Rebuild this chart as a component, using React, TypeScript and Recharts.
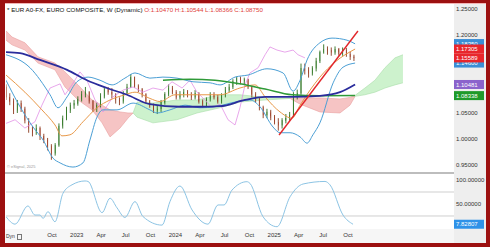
import { ComposedChart, Line, Area, Bar, XAxis, YAxis, ReferenceLine } from 'recharts'

const FONT = '"Liberation Sans", Arial, sans-serif'
const START = Date.UTC(2022, 3, 14)
const WEEK = 7 * 24 * 3600 * 1000
const X_MAX = 236.9

const TICK_DATES = ['2022-10-01', '2023-01-01', '2023-04-01', '2023-07-01', '2023-10-01', '2024-01-01', '2024-04-01', '2024-07-01', '2024-10-01', '2025-01-01', '2025-04-01', '2025-07-01', '2025-10-01']
const TICK_LABELS = ['Oct', '2023', 'Apr', 'Jul', 'Oct', '2024', 'Apr', 'Jul', 'Oct', '2025', 'Apr', 'Jul', 'Oct']
const TICK_WEEKS = TICK_DATES.map((d) => (Date.parse(d) - START) / WEEK)

// bi-weekly candles, week = index * 2
const FIRST_OPEN = 1.1
const CLOSE = [
  1.080, 1.072, 1.055, 1.068, 1.058, 1.035, 1.020, 1.012, 1.020, 1.005,
  0.998, 0.985, 0.972, 0.988, 1.025, 1.040, 1.055, 1.065, 1.068, 1.076,
  1.085, 1.090, 1.072, 1.058, 1.065, 1.082, 1.095, 1.090, 1.085, 1.075,
  1.072, 1.088, 1.100, 1.118, 1.102, 1.095, 1.085, 1.072, 1.065, 1.055,
  1.058, 1.070, 1.085, 1.098, 1.090, 1.080, 1.086, 1.090, 1.084, 1.080,
  1.088, 1.072, 1.066, 1.076, 1.085, 1.080, 1.072, 1.084, 1.094, 1.100,
  1.110, 1.116, 1.110, 1.114, 1.100, 1.085, 1.076, 1.060, 1.046, 1.052,
  1.042, 1.032, 1.026, 1.035, 1.040, 1.045, 1.084, 1.088, 1.136, 1.132,
  1.126, 1.135, 1.150, 1.166, 1.172, 1.170, 1.166, 1.172, 1.165, 1.170,
  1.162, 1.158, 1.156,
]
const HIGH = [
  1.105, 1.088, 1.078, 1.075, 1.074, 1.062, 1.040, 1.025, 1.028, 1.024,
  1.010, 1.002, 0.990, 0.992, 1.030, 1.045, 1.062, 1.070, 1.075, 1.082,
  1.092, 1.100, 1.092, 1.075, 1.070, 1.088, 1.100, 1.100, 1.098, 1.088,
  1.080, 1.092, 1.106, 1.125, 1.120, 1.105, 1.098, 1.088, 1.075, 1.068,
  1.064, 1.075, 1.090, 1.105, 1.102, 1.094, 1.092, 1.096, 1.094, 1.090,
  1.094, 1.090, 1.076, 1.080, 1.090, 1.090, 1.085, 1.088, 1.100, 1.106,
  1.115, 1.120, 1.120, 1.118, 1.116, 1.102, 1.090, 1.080, 1.064, 1.058,
  1.056, 1.046, 1.040, 1.040, 1.048, 1.052, 1.090, 1.095, 1.145, 1.145,
  1.138, 1.140, 1.156, 1.170, 1.182, 1.178, 1.176, 1.178, 1.175, 1.176,
  1.175, 1.168, 1.162,
]
const LOW = [
  1.075, 1.065, 1.048, 1.050, 1.052, 1.030, 1.012, 1.005, 1.008, 0.998,
  0.992, 0.978, 0.960, 0.968, 0.985, 1.020, 1.036, 1.050, 1.058, 1.064,
  1.072, 1.080, 1.068, 1.052, 1.052, 1.060, 1.078, 1.085, 1.078, 1.068,
  1.065, 1.068, 1.085, 1.098, 1.098, 1.090, 1.080, 1.068, 1.060, 1.050,
  1.048, 1.052, 1.066, 1.082, 1.086, 1.076, 1.076, 1.080, 1.080, 1.075,
  1.076, 1.068, 1.060, 1.062, 1.072, 1.076, 1.068, 1.068, 1.080, 1.090,
  1.096, 1.104, 1.105, 1.104, 1.096, 1.080, 1.070, 1.055, 1.040, 1.040,
  1.036, 1.028, 1.016, 1.020, 1.030, 1.035, 1.042, 1.076, 1.085, 1.124,
  1.118, 1.122, 1.130, 1.146, 1.164, 1.162, 1.160, 1.162, 1.160, 1.160,
  1.158, 1.152, 1.150,
]

// [week, value]
const NAVY = [[0, 1.167], [7.4, 1.165], [18, 1.152], [32.3, 1.133], [42.8, 1.113], [53.4, 1.098], [64, 1.085], [76.1, 1.067], [92, 1.062], [102.6, 1.062], [113.2, 1.063], [126.4, 1.075], [137, 1.081], [151.2, 1.081], [166, 1.083], [176.6, 1.09], [184.6, 1.1048]]
const GREEN_MA = [[83, 1.113], [97.3, 1.115], [110.5, 1.113], [123.7, 1.106], [137, 1.096], [151.2, 1.085], [166, 1.083], [184.6, 1.0834]]
const ORANGE_MA = [[0, 1.123], [10, 1.09], [19, 1.056], [25.9, 1.027], [29.6, 1.006], [33.8, 1.008], [40.7, 1.033], [48.1, 1.06], [55, 1.075], [62.9, 1.085], [68.2, 1.09], [76.1, 1.078], [81.4, 1.072], [89.4, 1.085], [102.6, 1.085], [113.2, 1.085], [123.7, 1.098], [131.7, 1.104], [137, 1.081], [144.9, 1.052], [151.2, 1.04], [155.5, 1.065], [160.8, 1.094], [166, 1.119], [174, 1.148], [184.6, 1.173]]
const BB_UPPER = [[0, 1.162], [12.7, 1.137], [23.3, 1.085], [27.5, 1.06], [32.3, 1.081], [37.5, 1.11], [43.4, 1.119], [49.7, 1.113], [56.1, 1.104], [62.9, 1.117], [68.2, 1.127], [76.1, 1.117], [83, 1.119], [90.4, 1.117], [98.9, 1.11], [107.9, 1.108], [113.2, 1.104], [121.1, 1.119], [128, 1.123], [138, 1.135], [146.5, 1.127], [151.8, 1.092], [155.5, 1.113], [159.2, 1.152], [166, 1.185], [172.4, 1.194], [180.3, 1.19], [184.6, 1.183]]
const BB_LOWER = [[0, 1.113], [7.4, 1.062], [14.3, 1.023], [19.6, 0.998], [24.9, 0.963], [28.6, 0.954], [35.4, 0.946], [40.7, 0.954], [44.4, 0.998], [48.1, 1.042], [51.3, 1.056], [58.7, 1.056], [67.2, 1.069], [76.1, 1.056], [79.9, 1.05], [86.7, 1.056], [94.7, 1.065], [102.6, 1.06], [110.5, 1.062], [121.1, 1.071], [129, 1.075], [134.3, 1.062], [141.2, 1.023], [144.9, 1.012], [150.2, 1.012], [155.5, 1.004], [159.2, 0.992], [162.3, 1.008], [166, 1.031], [173, 1.108], [178.2, 1.138], [184.6, 1.146]]
const LAGGING = [[0, 1.03], [4.8, 1.037], [10, 1.021], [15.3, 1.033], [19, 1.065], [23.3, 1.098], [28.6, 1.106], [31.2, 1.085], [34.9, 1.104], [39.1, 1.129], [42.8, 1.113], [47.1, 1.075], [51.3, 1.052], [56.6, 1.081], [61.9, 1.094], [67.2, 1.1], [72.4, 1.09], [77.7, 1.098], [83, 1.094], [87.8, 1.11], [93.1, 1.098], [97.3, 1.113], [101, 1.09], [105.2, 1.075], [108.9, 1.06], [113.2, 1.067], [117.4, 1.037], [121.1, 1.027], [123.7, 1.06], [126.4, 1.104], [129, 1.127], [133.3, 1.137], [137, 1.162], [139.6, 1.177], [143.3, 1.171], [147.5, 1.167], [151.8, 1.171], [154.4, 1.162], [158.1, 1.156]]
const TREND = [[144.4, 1.0077], [186.1, 1.2077]]

// [week, low, high]
const CLOUD_PINK_A = [[0, 1.19, 1.208], [3.2, 1.181, 1.196], [10, 1.171, 1.185], [16.9, 1.146, 1.158], [25.9, 1.133, 1.146], [31.2, 1.1, 1.129], [38.1, 1.075, 1.104], [45.5, 1.056, 1.075], [50.8, 1.031, 1.065], [55, 1.004, 1.056], [60.3, 1.021, 1.052], [64.5, 1.04, 1.05], [67.2, 1.05, 1.05]]
const CLOUD_GREEN_A = [[67.2, 1.05, 1.05], [69.3, 1.042, 1.071], [77.7, 1.031, 1.069], [90.4, 1.037, 1.075], [101, 1.05, 1.075], [113.2, 1.06, 1.085], [123.7, 1.071, 1.085], [137, 1.075, 1.08], [150.2, 1.078, 1.078]]
const CLOUD_PINK_B = [[150.2, 1.078, 1.078], [155.5, 1.067, 1.079], [166, 1.052, 1.079], [176.6, 1.05, 1.077], [181.9, 1.065, 1.08], [184.6, 1.082, 1.084]]
const CLOUD_GREEN_B = [[184.6, 1.082, 1.084], [189.8, 1.085, 1.098], [195.1, 1.09, 1.113], [200.4, 1.098, 1.137], [205.7, 1.104, 1.156], [209.9, 1.108, 1.162]]

const OSC = [[0, 23.6], [4.8, 8], [11.6, 46], [15.3, 27], [18, 27], [19.6, 20], [22.2, 34], [25.9, 13], [30.1, 72], [34.9, 90], [41.8, 98], [43.4, 97], [50.8, 32], [55, 62], [58.7, 42], [62.9, 22], [68.2, 55], [72.4, 24], [82.5, 6], [86.7, 55], [92, 87.5], [98.4, 37.5], [106.8, 8], [112.1, 48], [115.3, 48], [119.5, 79], [127.4, 96.5], [129, 93], [135.9, 23.6], [143.3, 2.7], [150.2, 65], [157.1, 91.7], [168.7, 97], [171.3, 90], [178.2, 27], [183.5, 7.83]]

const PRICE_TICKS = [0.95, 1.0, 1.05, 1.2, 1.25]

const candles = CLOSE.map((c, i) => ({
  w: i * 2,
  open: i ? CLOSE[i - 1] : FIRST_OPEN,
  close: c,
  high: HIGH[i],
  low: LOW[i],
  range: [LOW[i], HIGH[i]],
}))
const pts = (a: number[][]) => a.map(([w, v]) => ({ w, v }))
const band = (a: number[][]) => a.map(([w, lo, hi]) => ({ w, r: [lo, hi] }))

const Candle = (props: any) => {
  const { x, y, width, height, payload } = props
  const top = Math.min(y, y + height)
  const h = Math.abs(height)
  const { open, close, high, low } = payload
  const pix = (v: number) => top + ((high - v) / (high - low)) * h
  const up = close >= open
  const color = up ? '#1fa823' : '#e0262a'
  const b0 = pix(Math.max(open, close))
  const b1 = pix(Math.min(open, close))
  const cx = x + width / 2
  return (
    <g>
      <line x1={cx} x2={cx} y1={top} y2={top + h} stroke={up ? '#2c6e1e' : '#8a3a1e'} strokeWidth={0.9} />
      <rect x={x} y={b0} width={width} height={Math.max(1.2, b1 - b0)} fill={color} stroke={up ? '#2c6e1e' : '#9a3a1e'} strokeWidth={0.4} />
    </g>
  )
}

const Badge = (props: any) => {
  const { viewBox, text, bg } = props
  const x = viewBox.x + viewBox.width
  const y = viewBox.y
  return (
    <g>
      <rect x={x} y={y - 4.5} width={30} height={9} fill={bg} />
      <text x={x + 2} y={y + 2.2} fontSize={6} fill="#fff" fontFamily={FONT}>{text}</text>
    </g>
  )
}

const lineProps = { dot: false, isAnimationActive: false, dataKey: 'v', activeDot: false } as const

export default function App() {
  return (
    <div style={{ position: 'relative', width: 490, height: 247, background: '#fff', overflow: 'hidden', fontFamily: FONT }}>
      <style>{'body{margin:0}'}</style>
      <div style={{ position: 'absolute', left: 454, top: 3, width: 32, height: 241, background: '#eeeeee' }} />
      <div style={{ position: 'absolute', left: 5, top: 229, width: 449, height: 15, background: '#f6f6f6' }} />

      <div style={{ position: 'absolute', left: 5, top: 3 }}>
        <ComposedChart width={480} height={169} data={candles} margin={{ top: 0, right: 0, left: 1, bottom: 0 }}>
          <XAxis type="number" dataKey="w" domain={[0, X_MAX]} hide allowDataOverflow />
          <YAxis
            orientation="right"
            domain={[0.9365, 1.2615]}
            ticks={PRICE_TICKS}
            width={31}
            axisLine={false}
            tickLine={false}
            tickSize={2}
            tickMargin={0}
            allowDataOverflow
            tick={{ fontSize: 6, fill: '#333', fontFamily: FONT }}
            tickFormatter={(v: number) => v.toFixed(5)}
          />
          <Area data={band(CLOUD_PINK_A)} dataKey="r" type="linear" fill="#f6c4c4" fillOpacity={1} stroke="#eaa0a0" strokeWidth={0.6} isAnimationActive={false} />
          <Area data={band(CLOUD_GREEN_A)} dataKey="r" type="linear" fill="#cdf2cd" fillOpacity={1} stroke="#a9dea9" strokeWidth={0.6} isAnimationActive={false} />
          <Area data={band(CLOUD_PINK_B)} dataKey="r" type="linear" fill="#f6c4c4" fillOpacity={1} stroke="#eaa0a0" strokeWidth={0.6} isAnimationActive={false} />
          <Area data={band(CLOUD_GREEN_B)} dataKey="r" type="linear" fill="#cdf2cd" fillOpacity={1} stroke="#a9dea9" strokeWidth={0.6} isAnimationActive={false} />
          <Line data={pts(LAGGING)} type="linear" stroke="#e291e6" strokeWidth={0.8} {...lineProps} />
          <Line data={pts(BB_UPPER)} type="monotone" stroke="#4b9fd5" strokeWidth={1} {...lineProps} />
          <Line data={pts(BB_LOWER)} type="monotone" stroke="#4b9fd5" strokeWidth={1} {...lineProps} />
          <Bar dataKey="range" barSize={3.4} shape={<Candle />} isAnimationActive={false} />
          <Line data={pts(ORANGE_MA)} type="monotone" stroke="#e89848" strokeWidth={1} {...lineProps} />
          <Line data={pts(GREEN_MA)} type="monotone" stroke="#2f9a38" strokeWidth={1.5} {...lineProps} />
          <Line data={pts(NAVY)} type="monotone" stroke="#2a2c9c" strokeWidth={1.8} {...lineProps} />
          <Line data={pts(TREND)} type="linear" stroke="#e2262a" strokeWidth={1.4} {...lineProps} />
          <ReferenceLine y={1.1835} stroke="none" label={<Badge text="1.18350" bg="#3a8ed6" />} />
          <ReferenceLine y={1.146} stroke="none" label={<Badge text="1.14600" bg="#3a8ed6" />} />
          <ReferenceLine y={1.17305} stroke="none" label={<Badge text="1.17305" bg="#e8262c" />} />
          <ReferenceLine y={1.15589} stroke="none" label={<Badge text="1.15589" bg="#e8262c" />} />
          <ReferenceLine y={1.10481} stroke="none" label={<Badge text="1.10481" bg="#8b63cc" />} />
          <ReferenceLine y={1.08338} stroke="none" label={<Badge text="1.08338" bg="#1f9a2a" />} />
        </ComposedChart>
      </div>

      <div style={{ position: 'absolute', left: 5, top: 172, width: 449, height: 1.5, background: '#bdbdbd' }} />

      <div style={{ position: 'absolute', left: 5, top: 173 }}>
        <ComposedChart width={480} height={70} margin={{ top: 0, right: 0, left: 1, bottom: 0 }}>
          <XAxis
            type="number"
            dataKey="w"
            domain={[0, X_MAX]}
            ticks={TICK_WEEKS}
            interval={0}
            height={14}
            axisLine={false}
            tickLine={false}
            tickSize={3}
            tickMargin={1}
            allowDataOverflow
            tick={{ fontSize: 6, fill: '#333', fontFamily: FONT }}
            tickFormatter={(_v: number, i: number) => TICK_LABELS[i]}
          />
          <YAxis
            orientation="right"
            domain={[-2.1, 114.6]}
            ticks={[50, 100]}
            width={31}
            axisLine={false}
            tickLine={false}
            tickSize={2}
            tickMargin={0}
            allowDataOverflow
            tick={{ fontSize: 6, fill: '#333', fontFamily: FONT }}
            tickFormatter={(v: number) => v.toFixed(5)}
          />
          <ReferenceLine y={75} stroke="#cfcfcf" />
          <ReferenceLine y={25} stroke="#cfcfcf" />
          <Line data={pts(OSC)} type="monotone" stroke="#8cc4e4" strokeWidth={1} {...lineProps} />
          <ReferenceLine y={7.82807} stroke="none" label={<Badge text="7.82807" bg="#2f92e8" />} />
        </ComposedChart>
      </div>

      <div style={{ position: 'absolute', left: 7, top: 6, fontSize: 6.2, whiteSpace: 'nowrap', color: '#111' }}>
        * EUR A0-FX, EURO COMPOSITE, W (Dynamic) <span style={{ color: '#e0403a' }}>O:1.10470 H:1.10544 L:1.08366 C:1.08750</span>
      </div>
      <div style={{ position: 'absolute', left: 7, top: 164, fontSize: 4, color: '#999' }}>© eSignal, 2025</div>
      <div style={{ position: 'absolute', left: 6, top: 233, fontSize: 5, color: '#333' }}>Dyn</div>
      <div style={{ position: 'absolute', left: 17, top: 234, width: 3, height: 4, border: '0.6px solid #777' }} />

      <div style={{ position: 'absolute', inset: 0, borderStyle: 'solid', borderColor: '#9c1010', borderWidth: '3px 4px 4px 5px', pointerEvents: 'none' }} />
      <div style={{ position: 'absolute', left: 5, top: 3, width: 481, height: 1, background: '#f2b4b4' }} />
    </div>
  )
}
